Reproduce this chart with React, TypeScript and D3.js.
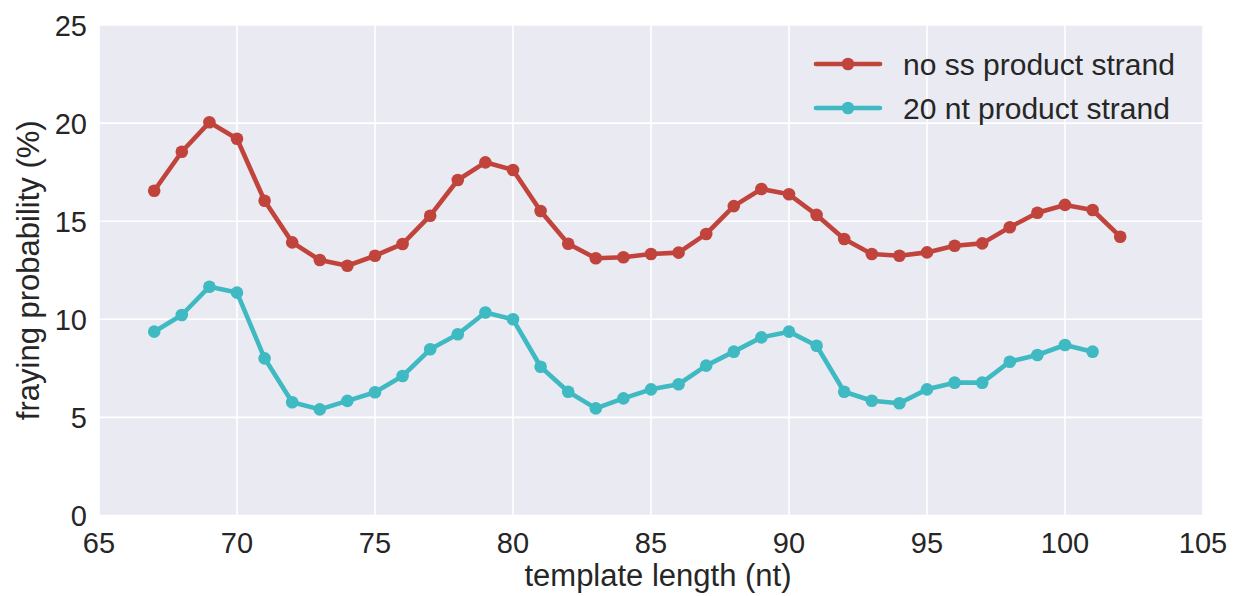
import React from "react";
import * as d3 from "d3";

const templateLengthA = [67,68,69,70,71,72,73,74,75,76,77,78,79,80,81,82,83,84,85,86,87,88,89,90,91,92,93,94,95,96,97,98,99,100,101,102];
const noSsValues = [16.55,18.54,20.04,19.2,16.04,13.92,13.02,12.73,13.24,13.84,15.28,17.1,18.0,17.61,15.52,13.85,13.11,13.16,13.33,13.4,14.35,15.77,16.64,16.37,15.32,14.09,13.33,13.24,13.41,13.75,13.87,14.69,15.43,15.83,15.57,14.21];
const templateLengthB = [67,68,69,70,71,72,73,74,75,76,77,78,79,80,81,82,83,84,85,86,87,88,89,90,91,92,93,94,95,96,97,98,99,100,101];
const nt20Values = [9.37,10.22,11.66,11.36,8.01,5.77,5.41,5.84,6.28,7.11,8.47,9.24,10.35,10.0,7.58,6.31,5.46,5.97,6.43,6.69,7.64,8.35,9.08,9.37,8.65,6.31,5.85,5.72,6.43,6.77,6.77,7.84,8.18,8.69,8.35];
const xTicks = [65,70,75,80,85,90,95,100,105];
const yTicks = [0,5,10,15,20,25];
const seriesNames = ["no ss product strand", "20 nt product strand"];
const seriesColors = ["#c1443c", "#3fb9c2"];

const W = 1235, H = 596;
const L = 99, R = 1203, T = 25, B = 515.5;
const FONT = "'Liberation Sans', Arial, Helvetica, sans-serif";
const TXT = "#262626";

export default function App() {
  const x = d3.scaleLinear().domain([65, 105]).range([L, R]);
  const y = d3.scaleLinear().domain([0, 25]).range([B, T]);
  const line = d3.line<[number, number]>().x(d => x(d[0])).y(d => y(d[1]));
  const series = [
    { name: seriesNames[0], color: seriesColors[0], pts: templateLengthA.map((t, i) => [t, noSsValues[i]] as [number, number]) },
    { name: seriesNames[1], color: seriesColors[1], pts: templateLengthB.map((t, i) => [t, nt20Values[i]] as [number, number]) },
  ];
  return (
    <svg width={W} height={H} style={{ position: "absolute", left: 0, top: 0, background: "#fff" }}>
      <rect x={L} y={T} width={R - L} height={B - T} fill="#eaeaf2" />
      {xTicks.map(t => (
        <line key={"gx" + t} x1={x(t)} x2={x(t)} y1={T} y2={B} stroke="#fff" strokeWidth={1.6} />
      ))}
      {yTicks.map(t => (
        <line key={"gy" + t} x1={L} x2={R} y1={y(t)} y2={y(t)} stroke="#fff" strokeWidth={1.6} />
      ))}
      {series.map(s => (
        <g key={s.name}>
          <path d={line(s.pts) || ""} fill="none" stroke={s.color} strokeWidth={4.6} strokeLinejoin="round" strokeLinecap="round" />
          {s.pts.map((p, i) => (
            <circle key={i} cx={x(p[0])} cy={y(p[1])} r={6.3} fill={s.color} />
          ))}
        </g>
      ))}
      {xTicks.map(t => (
        <text key={"tx" + t} x={x(t)} y={553} textAnchor="middle" fontFamily={FONT} fontSize={29} fill={TXT}>{t}</text>
      ))}
      {yTicks.map(t => (
        <text key={"ty" + t} x={L - 12} y={y(t) + 10.5} textAnchor="end" fontFamily={FONT} fontSize={29} fill={TXT}>{t}</text>
      ))}
      <text x={658} y={586} textAnchor="middle" fontFamily={FONT} fontSize={31} fill={TXT}>template length (nt)</text>
      <text transform={`translate(39,${(T + B) / 2}) rotate(-90)`} textAnchor="middle" fontFamily={FONT} fontSize={31} fill={TXT}>fraying probability (%)</text>
      {series.map((s, i) => {
        const cy = 64 + i * 44;
        return (
          <g key={"lg" + i}>
            <line x1={816} x2={880} y1={cy} y2={cy} stroke={s.color} strokeWidth={4.6} strokeLinecap="round" />
            <circle cx={848} cy={cy} r={6.3} fill={s.color} />
            <text x={903} y={cy + 10.5} fontFamily={FONT} fontSize={30} fill={TXT}>{s.name}</text>
          </g>
        );
      })}
    </svg>
  );
}
